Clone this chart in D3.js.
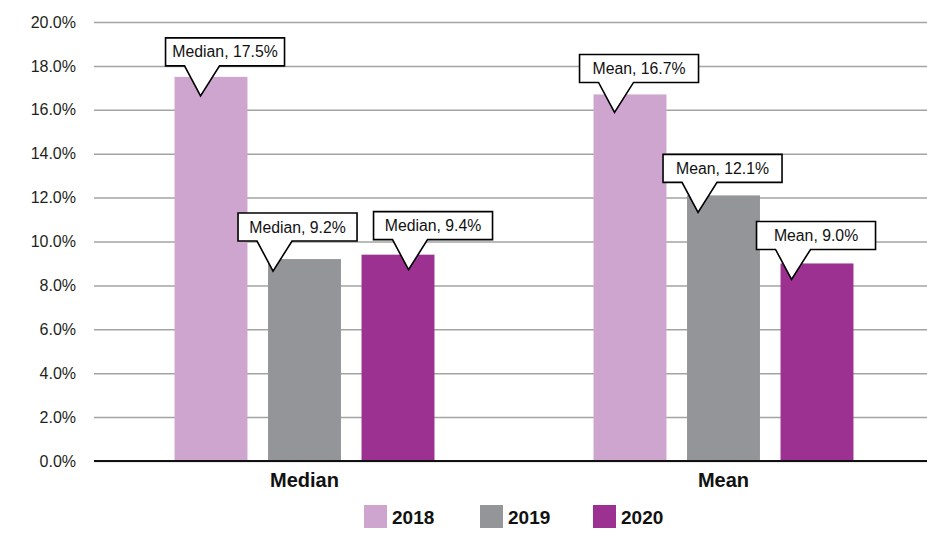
<!DOCTYPE html>
<html>
<head>
<meta charset="utf-8">
<script src="https://cdn.jsdelivr.net/npm/d3@7/dist/d3.min.js"></script>
<style>
  html, body { margin: 0; padding: 0; background: #fff; }
  svg { display: block; font-family: "Liberation Sans", Arial, Helvetica, sans-serif; }
</style>
</head>
<body>
<svg id="chart" width="927" height="542"></svg>
<script>
// Measures and years
const categories = ["Median", "Mean"];
const years = ["2018", "2019", "2020"];
const medianValues = [17.5, 9.2, 9.4];
const meanValues = [16.7, 12.1, 9.0];
const yTicks = [0, 2, 4, 6, 8, 10, 12, 14, 16, 18, 20];
const colors = ["#cea5ce", "#949598", "#9c3192"];

// Callout pointer placement (tip offset from bar's left edge, depth below bar top)
const calloutTipDx = { Median: [26, 5, 47], Mean: [21, 11, 11] };
const calloutTipDy = { Median: [19, 12, 15], Mean: [18, 17, 16] };

const seriesByCategory = { Median: medianValues, Mean: meanValues };
const rows = [];
categories.forEach(c => years.forEach((yr, i) => rows.push({ cat: c, year: yr, i, value: seriesByCategory[c][i] })));

const W = 927, H = 542;
const plotLeft = 95, plotRight = 933, plotTop = 22, plotBottom = 461;
const svg = d3.select("#chart");

const x0 = d3.scaleBand().domain(categories).range([plotLeft, plotRight]).paddingInner(0).paddingOuter(0);
const x1 = d3.scaleBand().domain(years).range([-140.25, 140.25]).paddingInner(0.22).paddingOuter(0.11);
const y = d3.scaleLinear().domain([0, 20]).range([plotBottom, plotTop]);
const color = d3.scaleOrdinal().domain(years).range(colors);

// Gridlines and tick labels
const yAxis = d3.axisLeft(y)
  .tickValues(yTicks)
  .tickFormat(d => d.toFixed(1) + "%")
  .tickSize(-(W - plotLeft + 1))
  .tickPadding(18);
const gy = svg.append("g").attr("transform", `translate(${plotLeft - 1},0)`).call(yAxis);
gy.select(".domain").remove();
gy.selectAll(".tick line").attr("stroke", "#a3a3a3").attr("stroke-width", 1.5);
gy.selectAll(".tick text").attr("fill", "#231f20").attr("font-size", 16);

// Bars
svg.append("g").selectAll("rect").data(rows).join("rect")
  .attr("x", d => x0(d.cat) + x0.bandwidth() / 2 + x1(d.year))
  .attr("y", d => y(d.value))
  .attr("width", x1.bandwidth())
  .attr("height", d => y(0) - y(d.value))
  .attr("fill", d => color(d.year));

// Zero baseline
svg.append("line")
  .attr("x1", plotLeft - 1).attr("x2", W)
  .attr("y1", y(0)).attr("y2", y(0))
  .attr("stroke", "#111").attr("stroke-width", 2);

// Category labels
svg.append("g").selectAll("text").data(categories).join("text")
  .attr("x", d => x0(d) + x0.bandwidth() / 2)
  .attr("y", 487)
  .attr("text-anchor", "middle")
  .attr("font-weight", "bold")
  .attr("font-size", 20)
  .attr("fill", "#111")
  .text(d => d);

// Value callouts
const boxW = 119, boxH = 28, tipToBox = 30;
const callouts = svg.append("g");
rows.forEach(d => {
  const barLeft = x0(d.cat) + x0.bandwidth() / 2 + x1(d.year);
  const tx = barLeft + calloutTipDx[d.cat][d.i];
  const ty = y(d.value) + calloutTipDy[d.cat][d.i];
  const bx = tx - 35, bb = ty - tipToBox, bt = bb - boxH;
  const path = d3.path();
  path.moveTo(bx, bt);
  path.lineTo(bx + boxW, bt);
  path.lineTo(bx + boxW, bb);
  path.lineTo(bx + 54, bb);
  path.lineTo(tx, ty);
  path.lineTo(bx + 19, bb);
  path.lineTo(bx, bb);
  path.closePath();
  callouts.append("path")
    .attr("d", path.toString())
    .attr("fill", "#fff")
    .attr("stroke", "#000")
    .attr("stroke-width", 1.6)
    .attr("stroke-linejoin", "miter");
  callouts.append("text")
    .attr("x", bx + boxW / 2)
    .attr("y", bt + 19.5)
    .attr("text-anchor", "middle")
    .attr("font-size", 15.8)
    .attr("fill", "#111")
    .text(`${d.cat}, ${d.value.toFixed(1)}%`);
});

// Legend
const legendX = [364, 480, 593];
const legend = svg.append("g").selectAll("g").data(years).join("g")
  .attr("transform", (d, i) => `translate(${legendX[i]},505)`);
legend.append("rect").attr("width", 23).attr("height", 23).attr("fill", d => color(d));
legend.append("text")
  .attr("x", 28).attr("y", 19)
  .attr("font-weight", "bold").attr("font-size", 19).attr("fill", "#111")
  .text(d => d);
</script>
</body>
</html>
